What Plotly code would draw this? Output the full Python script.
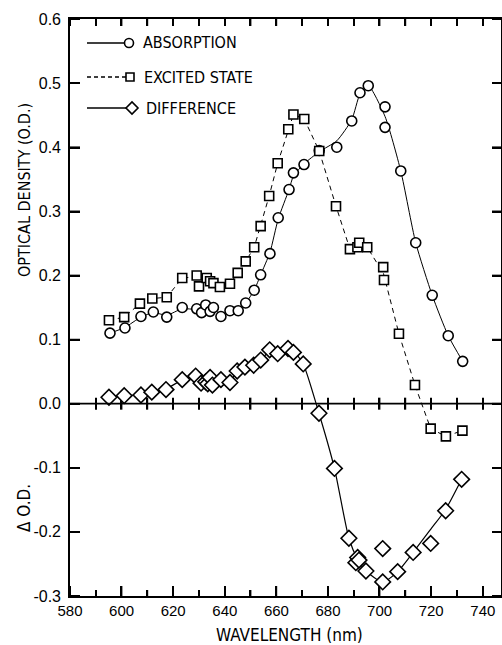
import plotly.graph_objects as go

# ---------------- data ----------------
ABS_X = [595.5, 601.3, 607.5, 612.3, 617.5, 623.5, 629.1, 631.0, 632.6, 634.3, 635.6, 638.5,
         642.0, 645.2, 648.1, 651.4, 653.9, 657.5, 660.7, 664.9, 666.6, 670.7, 676.6, 683.4,
         689.2, 692.4, 695.6, 702.1, 702.1, 708.2, 714.0, 720.4, 726.6, 732.2]
ABS_Y = [0.110, 0.118, 0.136, 0.143, 0.135, 0.150, 0.148, 0.142, 0.154, 0.144, 0.150, 0.136,
         0.145, 0.145, 0.157, 0.177, 0.201, 0.234, 0.290, 0.334, 0.360, 0.373, 0.395, 0.400,
         0.441, 0.485, 0.496, 0.463, 0.431, 0.363, 0.251, 0.169, 0.106, 0.066]
ABS_CURVE_X = [595.5, 601.3, 607.5, 612.3, 617.5, 623.5, 629.0, 633.0, 636.0, 639.0, 642.0, 645.2,
               648.1, 651.4, 653.9, 657.5, 660.7, 664.9, 666.6, 670.7, 676.6, 683.4, 689.2, 692.4,
               695.6, 702.1, 708.2, 714.0, 720.4, 726.6, 732.2]
ABS_CURVE_Y = [0.110, 0.119, 0.135, 0.142, 0.138, 0.148, 0.147, 0.149, 0.146, 0.139, 0.143, 0.146,
               0.157, 0.177, 0.201, 0.236, 0.288, 0.334, 0.355, 0.374, 0.393, 0.410, 0.443, 0.483,
               0.496, 0.448, 0.363, 0.251, 0.169, 0.106, 0.066]

EXC_X = [595.1, 601.0, 607.1, 611.9, 617.5, 623.5, 629.1, 630.0, 633.0, 634.3, 635.6, 638.1,
         642.0, 645.0, 648.1, 651.4, 653.9, 657.2, 660.5, 664.6, 666.6, 670.8, 676.6, 683.1,
         688.5, 691.4, 692.1, 695.2, 701.4, 701.7, 707.5, 713.7, 719.8, 725.7, 732.1]
EXC_Y = [0.130, 0.135, 0.156, 0.164, 0.166, 0.196, 0.200, 0.183, 0.196, 0.191, 0.188, 0.182,
         0.187, 0.204, 0.222, 0.244, 0.277, 0.324, 0.375, 0.428, 0.451, 0.444, 0.394, 0.308,
         0.241, 0.244, 0.251, 0.244, 0.213, 0.193, 0.109, 0.029, -0.039, -0.051, -0.042]
EXC_CURVE_X = [595.1, 601.0, 607.1, 611.9, 617.5, 623.5, 629.1, 633.0, 636.0, 638.1, 642.0, 645.0,
               648.1, 651.4, 653.9, 657.2, 660.5, 664.6, 666.6, 670.8, 676.6, 683.1, 688.5, 692.0,
               695.2, 701.5, 707.5, 713.7, 719.8, 725.7, 732.1]
EXC_CURVE_Y = [0.130, 0.135, 0.156, 0.164, 0.166, 0.196, 0.198, 0.193, 0.188, 0.182, 0.187, 0.204,
               0.222, 0.244, 0.277, 0.324, 0.375, 0.428, 0.451, 0.444, 0.394, 0.308, 0.241, 0.250,
               0.244, 0.203, 0.109, 0.029, -0.039, -0.051, -0.042]

DIF_X = [595.1, 601.0, 607.5, 611.7, 617.2, 623.5, 628.7, 630.8, 632.6, 633.4, 634.3, 635.2,
         638.5, 642.0, 644.8, 647.8, 651.2, 653.9, 657.4, 660.5, 664.5, 666.6, 670.4, 676.5,
         682.5, 688.1, 690.8, 691.5, 692.0, 694.7, 701.2, 701.2, 707.0, 713.0, 719.8, 725.6, 731.8]
DIF_Y = [0.010, 0.0125, 0.0135, 0.018, 0.022, 0.0375, 0.043, 0.032, 0.034, 0.031, 0.041, 0.029,
         0.0375, 0.033, 0.051, 0.057, 0.060, 0.068, 0.084, 0.078, 0.086, 0.080, 0.062, -0.015,
         -0.101, -0.210, -0.248, -0.240, -0.244, -0.261, -0.278, -0.226, -0.262, -0.232, -0.218,
         -0.167, -0.118]
DIF_CURVE_X = [595.1, 601.0, 607.5, 611.7, 617.2, 623.5, 628.7, 633.0, 638.5, 642.0, 644.8, 647.8,
               651.2, 653.9, 657.4, 660.5, 664.5, 666.6, 670.4, 676.5, 682.5, 688.1, 691.5, 694.7,
               701.2, 707.0, 713.0, 719.8, 725.6, 731.8]
DIF_CURVE_Y = [0.010, 0.0125, 0.0135, 0.018, 0.023, 0.037, 0.042, 0.035, 0.037, 0.035, 0.050, 0.057,
               0.061, 0.068, 0.082, 0.080, 0.085, 0.082, 0.062, -0.015, -0.101, -0.210, -0.243, -0.261,
               -0.278, -0.262, -0.232, -0.196, -0.165, -0.118]

SERIES_NAMES = ["ABSORPTION", "EXCITED STATE", "DIFFERENCE"]
Y_TICKS = [-0.3, -0.2, -0.1, 0.0, 0.1, 0.2, 0.3, 0.4, 0.5, 0.6]
Y_TICKTEXT = ["-0.3", "-0.2", "-0.1", "0.0", "0.1", "0.2", "0.3", "0.4", "0.5", "0.6"]
X_MAJOR_TICKS = [580, 600, 620, 640, 660, 680, 700, 720, 740]
X_MINOR_TICKS = [590, 610, 630, 650, 670, 690, 710, 730]
ZERO_LINE_TICKS = [590, 600, 610, 620, 630, 640, 650, 660, 670, 680, 690, 700, 710, 720, 730, 740]
X_TITLE = "WAVELENGTH (nm)"
Y_TITLE_TOP = "OPTICAL DENSITY (O.D.)"
Y_TITLE_BOTTOM = "Δ O.D."

# ---------------- layout geometry ----------------
W, H = 502, 645
ML, MR, MT, MB = 70, 1, 19, 49
PW, PH = W - ML - MR, H - MT - MB
PX_PER_NM = 2.58
XR = [580, 580 + PW / PX_PER_NM]
YR = [-0.3, 0.6]
PX_PER_Y = PH / (YR[1] - YR[0])

def px(xp):
    return (xp - ML) / PW

def py(yp):
    return (H - MB - yp) / PH

NARROW = "DejaVu Sans Condensed, Liberation Sans Narrow, Arial Narrow, Liberation Sans, sans-serif"
SANS = "Liberation Sans, Arial, sans-serif"
BLK = "#000000"
TW = 1.6  # tick thickness (px)

fig = go.Figure()

# ---- tick marks as thin bar traces (positions from the tick lists) ----
def vtick_bars(ticks, base, length_px):
    fig.add_trace(go.Bar(x=ticks, y=[length_px / PX_PER_Y] * len(ticks), base=base,
                         width=TW / PX_PER_NM, orientation="v",
                         marker=dict(color=BLK, line=dict(width=0)),
                         hoverinfo="skip", showlegend=False, cliponaxis=False))

def htick_bars(ticks, base, length_px):
    fig.add_trace(go.Bar(y=ticks, x=[length_px / PX_PER_NM] * len(ticks), base=base,
                         width=TW / PX_PER_Y, orientation="h",
                         marker=dict(color=BLK, line=dict(width=0)),
                         hoverinfo="skip", showlegend=False, cliponaxis=False))

vtick_bars(X_MAJOR_TICKS, YR[0], 10)
vtick_bars(X_MINOR_TICKS, YR[0], 6)
vtick_bars(X_MAJOR_TICKS + X_MINOR_TICKS, YR[1], -7)
vtick_bars(ZERO_LINE_TICKS, -6 / PX_PER_Y, 12)
htick_bars(Y_TICKS, XR[0], 10)
htick_bars(Y_TICKS, XR[1], -9)

# curves
fig.add_trace(go.Scatter(x=ABS_CURVE_X, y=ABS_CURVE_Y, mode="lines",
                         line=dict(color=BLK, width=1, shape="spline", smoothing=0.6),
                         hoverinfo="skip", showlegend=False))
fig.add_trace(go.Scatter(x=EXC_CURVE_X, y=EXC_CURVE_Y, mode="lines",
                         line=dict(color=BLK, width=1, dash="5px,4px"),
                         hoverinfo="skip", showlegend=False))
fig.add_trace(go.Scatter(x=DIF_CURVE_X, y=DIF_CURVE_Y, mode="lines",
                         line=dict(color=BLK, width=1.2, shape="spline", smoothing=0.6),
                         hoverinfo="skip", showlegend=False))

# markers
fig.add_trace(go.Scatter(x=ABS_X, y=ABS_Y, mode="markers", name=SERIES_NAMES[0],
                         marker=dict(symbol="circle", size=10, color="white",
                                     line=dict(color=BLK, width=1.6)), showlegend=False))
fig.add_trace(go.Scatter(x=EXC_X, y=EXC_Y, mode="markers", name=SERIES_NAMES[1],
                         marker=dict(symbol="square", size=9, color="white",
                                     line=dict(color=BLK, width=1.6)), showlegend=False))
fig.add_trace(go.Scatter(x=DIF_X, y=DIF_Y, mode="markers", name=SERIES_NAMES[2],
                         marker=dict(symbol="diamond", size=12, color="white",
                                     line=dict(color=BLK, width=1.6)), showlegend=False))

fig.update_layout(
    template="none",
    width=W, height=H,
    margin=dict(l=ML, r=MR, t=MT, b=MB, pad=0),
    paper_bgcolor="white", plot_bgcolor="rgba(0,0,0,0)",
    showlegend=False,
    barmode="overlay",
    xaxis=dict(range=XR, showgrid=False, zeroline=False, fixedrange=True,
               showline=True, linecolor=BLK, linewidth=1.6, mirror=True, ticks="",
               tickmode="array", tickvals=X_MAJOR_TICKS,
               tickfont=dict(family=SANS, size=15, color=BLK)),
    yaxis=dict(range=YR, showgrid=False, zeroline=False, fixedrange=True,
               showline=True, linecolor=BLK, linewidth=1.6, mirror=True, ticks="",
               tickmode="array", tickvals=Y_TICKS, ticktext=Y_TICKTEXT,
               ticklabelstandoff=4,
               tickfont=dict(family=SANS, size=16, color=BLK)),
)

# zero line
fig.add_shape(type="line", xref="paper", yref="y", x0=0, x1=1, y0=0, y1=0,
              line=dict(color=BLK, width=1.8))

# titles as annotations
fig.add_annotation(text=X_TITLE, xref="paper", yref="paper", x=px(289), y=py(635),
                   xanchor="center", yanchor="middle", showarrow=False,
                   font=dict(family=NARROW, size=17, color=BLK))
fig.add_annotation(text=Y_TITLE_TOP, xref="paper", yref="paper", x=px(24), y=py(190),
                   xanchor="center", yanchor="middle", showarrow=False, textangle=-90,
                   font=dict(family=NARROW, size=16, color=BLK))
fig.add_annotation(text=Y_TITLE_BOTTOM, xref="paper", yref="paper", x=px(24), y=py(508),
                   xanchor="center", yanchor="middle", showarrow=False, textangle=-90,
                   font=dict(family=NARROW, size=17, color=BLK))

# hand-drawn legend (line sample with symbol at its right end)
rows = [43, 77, 108]
dashes = ["solid", "4px,3px", "solid"]
sym_x = [129, 130, 132]
for i, name in enumerate(SERIES_NAMES):
    yy = py(rows[i])
    fig.add_shape(type="line", xref="paper", yref="paper", x0=px(87), x1=px(sym_x[i] - 4),
                  y0=yy, y1=yy, line=dict(color=BLK, width=1.3, dash=dashes[i]))
    common = dict(xref="paper", yref="paper", xsizemode="pixel", ysizemode="pixel",
                  xanchor=px(sym_x[i]), yanchor=yy, line=dict(color=BLK, width=1.6),
                  fillcolor="white")
    if i == 0:
        fig.add_shape(type="circle", x0=-4.5, x1=4.5, y0=-4.5, y1=4.5, **common)
    elif i == 1:
        fig.add_shape(type="rect", x0=-4, x1=4, y0=-4, y1=4, **common)
    else:
        fig.add_shape(type="path", path="M -6 0 L 0 6 L 6 0 L 0 -6 Z", **common)
    fig.add_annotation(text=name, xref="paper", yref="paper", x=px(sym_x[i] + 12), y=yy,
                       xanchor="left", yanchor="middle", showarrow=False,
                       font=dict(family=NARROW, size=16, color=BLK))

fig.write_html("out.html")
